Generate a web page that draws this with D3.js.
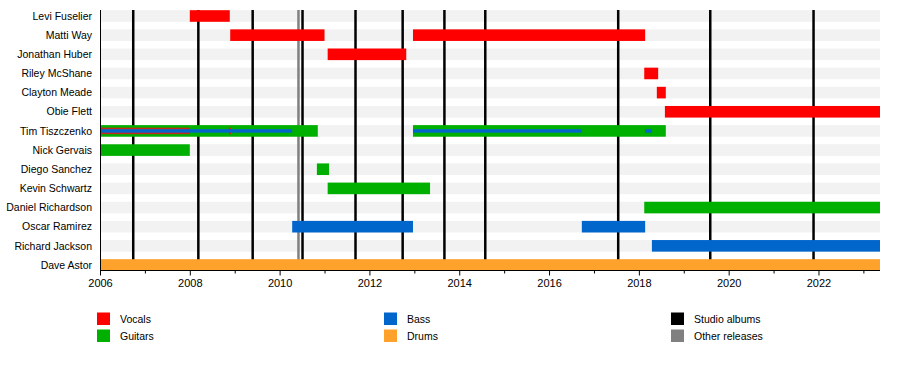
<!DOCTYPE html>
<html>
<head>
<meta charset="utf-8">
<title>Band timeline</title>
<script src="https://d3js.org/d3.v7.min.js"></script>
<style>
  body { margin: 0; background: #fff; }
  svg text { font-family: "Liberation Sans", Arial, sans-serif; font-size: 10.5px; fill: #000; }
</style>
</head>
<body>
<div id="home"></div>
<script>
// members, top to bottom
const members = ["Levi Fuselier", "Matti Way", "Jonathan Huber", "Riley McShane", "Clayton Meade",
  "Obie Flett", "Tim Tiszczenko", "Nick Gervais", "Diego Sanchez", "Kevin Schwartz",
  "Daniel Richardson", "Oscar Ramirez", "Richard Jackson", "Dave Astor"];

// [member, start, end] in decimal years
const vocals = [
  ["Levi Fuselier", 2008.0, 2008.89],
  ["Matti Way", 2008.9, 2011.0],
  ["Matti Way", 2012.97, 2018.14],
  ["Jonathan Huber", 2011.07, 2012.82],
  ["Riley McShane", 2018.12, 2018.43],
  ["Clayton Meade", 2018.4, 2018.6],
  ["Obie Flett", 2018.58, 2023.37]
];
const guitars = [
  ["Tim Tiszczenko", 2006.0, 2010.85],
  ["Tim Tiszczenko", 2012.97, 2018.6],
  ["Nick Gervais", 2006.0, 2008.0],
  ["Diego Sanchez", 2010.83, 2011.1],
  ["Kevin Schwartz", 2011.07, 2013.35],
  ["Daniel Richardson", 2018.12, 2023.37]
];
const bass = [
  ["Oscar Ramirez", 2010.28, 2012.97],
  ["Oscar Ramirez", 2016.73, 2018.14],
  ["Richard Jackson", 2018.29, 2023.37]
];
const drums = [
  ["Dave Astor", 2006.0, 2023.37]
];
// secondary roles (thin lines)
const vocalsThin = [
  ["Tim Tiszczenko", 2006.0, 2008.0],
  ["Tim Tiszczenko", 2008.87, 2008.92]
];
const bassThin = [
  ["Tim Tiszczenko", 2006.0, 2010.28],
  ["Tim Tiszczenko", 2012.97, 2016.73],
  ["Tim Tiszczenko", 2018.14, 2018.29]
];

const studioAlbums = [2006.74, 2008.19, 2009.40, 2010.51, 2011.69, 2012.74, 2013.67, 2014.58, 2017.54, 2019.59, 2021.89];
const otherReleases = [2010.42];

const majorYears = [2006, 2008, 2010, 2012, 2014, 2016, 2018, 2020, 2022];
const minorYears = [2007, 2009, 2011, 2013, 2015, 2017, 2019, 2021, 2023];

const legendItems = [
  ["Vocals", "#ff0000"], ["Guitars", "#00b000"],
  ["Bass", "#0066cc"], ["Drums", "#ffa22b"],
  ["Studio albums", "#000000"], ["Other releases", "#808080"]
];

const w = 900, h = 390;
const svg = d3.select("#home").append("svg").attr("width", w).attr("height", h);

const x = d3.scaleLinear().domain([2006, 2023.37]).range([100, 880]);
const y = d3.scalePoint().domain(members).range([16, 265]);
const barH = 11.6;

// background stripes
svg.selectAll("rect.stripe")
  .data(members).enter().append("rect")
  .attr("x", x(2006)).attr("width", x(2023.37) - x(2006))
  .attr("y", d => y(d) - barH / 2).attr("height", barH)
  .attr("fill", "#f2f2f2");

// release lines
svg.selectAll("line.other")
  .data(otherReleases).enter().append("line")
  .attr("x1", d => x(d)).attr("x2", d => x(d))
  .attr("y1", 10).attr("y2", 270)
  .attr("stroke", "#808080").attr("stroke-width", 2.5);
svg.selectAll("line.studio")
  .data(studioAlbums).enter().append("line")
  .attr("x1", d => x(d)).attr("x2", d => x(d))
  .attr("y1", 10).attr("y2", 270)
  .attr("stroke", "#000").attr("stroke-width", 2.5);

// main bars
function bars(data, color, height) {
  svg.append("g").selectAll("rect")
    .data(data).enter().append("rect")
    .attr("x", d => x(d[1]))
    .attr("width", d => x(d[2]) - x(d[1]))
    .attr("y", d => y(d[0]) - height / 2)
    .attr("height", height)
    .attr("fill", color);
}
bars(vocals, "#ff0000", barH);
bars(guitars, "#00b000", barH);
bars(bass, "#0066cc", barH);
bars(drums, "#ffa22b", barH);
bars(vocalsThin, "#c8281a", 6.5);
bars(bassThin, "#0066cc", 3.5);

// left edge
svg.append("line")
  .attr("x1", 100.5).attr("x2", 100.5).attr("y1", 10).attr("y2", 270)
  .attr("stroke", "#000").attr("stroke-width", 1);

// member names
svg.selectAll("text.name")
  .data(members).enter().append("text")
  .attr("x", 92).attr("y", d => y(d))
  .attr("dy", "0.35em")
  .attr("text-anchor", "end")
  .text(d => d);

// axis
const minorAxis = d3.axisBottom(x).tickValues(minorYears).tickSize(3).tickFormat("");
const majorAxis = d3.axisBottom(x).tickValues(majorYears).tickSize(5).tickFormat(d3.format("d"));
svg.append("g").attr("transform", "translate(0,270.5)").call(minorAxis)
  .call(g => g.select(".domain").remove());
const ax = svg.append("g").attr("transform", "translate(0,270.5)").call(majorAxis);
ax.select(".domain").attr("d", "M" + x(2006) + ",0H" + x(2023.37));
ax.selectAll("text").attr("y", 9).style("font-size", "11px");

// legend
const cols = [97, 384, 671];
legendItems.forEach((d, i) => {
  const cx = cols[Math.floor(i / 2)];
  const cy = 312.5 + (i % 2) * 17;
  svg.append("rect").attr("x", cx).attr("y", cy).attr("width", 13).attr("height", 12.5).attr("fill", d[1]);
  svg.append("text").attr("x", cx + 23).attr("y", cy + 6.5).attr("dy", "0.35em").text(d[0]);
});
</script>
</body>
</html>
